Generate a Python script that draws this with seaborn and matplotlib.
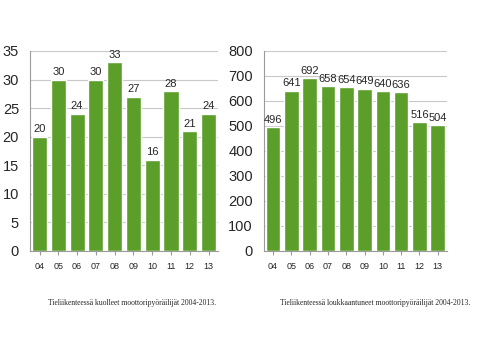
import matplotlib
matplotlib.use("Agg")
import matplotlib.pyplot as plt
import seaborn as sns
import pandas as pd

years = ["04", "05", "06", "07", "08", "09", "10", "11", "12", "13"]
kuolleet = [20, 30, 24, 30, 33, 27, 16, 28, 21, 24]
loukkaantuneet = [496, 641, 692, 658, 654, 649, 640, 636, 516, 504]

caption_left = "Tieliikenteessä kuolleet moottoripyöräilijät 2004-2013."
caption_right = "Tieliikenteessä loukkaantuneet moottoripyöräilijät 2004-2013."

sns.set_style("white")
plt.rcParams['font.family'] = ['Liberation Sans', 'DejaVu Sans']

green = "#5c9e2a"
fig = plt.figure(figsize=(4.79, 3.59), dpi=100)
ax1 = fig.add_axes([0.063, 0.301, 0.392, 0.557])
ax2 = fig.add_axes([0.551, 0.301, 0.382, 0.557])


def draw(ax, values, top, step):
    df = pd.DataFrame({"vuosi": years, "arvo": values})
    sns.barplot(data=df, x="vuosi", y="arvo", color=green, width=0.8,
                saturation=1, ax=ax, zorder=3)
    ax.set_xlim(-0.5, 9.5)
    ax.set_ylim(0, top)
    ax.set_yticks(range(0, top + 1, step))
    ax.grid(axis="y", color="#c8c8c8", linewidth=0.8, zorder=0)
    ax.set_axisbelow(True)
    for s in ["top", "right"]:
        ax.spines[s].set_visible(False)
    for s in ["left", "bottom"]:
        ax.spines[s].set_color("#9a9a9a")
        ax.spines[s].set_linewidth(0.8)
    ax.tick_params(axis="y", labelsize=10.5, length=0, pad=8)
    ax.tick_params(axis="x", labelsize=6.5, length=3, color="#9a9a9a",
                   direction="out", bottom=True, pad=5)
    ax.set_xlabel("")
    ax.set_ylabel("")
    for i, v in enumerate(values):
        ax.text(i, v + top * 0.012, str(v), ha="center", va="bottom", fontsize=8)


draw(ax1, kuolleet, 35, 5)
draw(ax2, loukkaantuneet, 800, 100)

fig.text(0.276, 0.157, caption_left, ha="center", va="center", fontsize=5.5,
         family="Liberation Serif")
fig.text(0.783, 0.157, caption_right, ha="center", va="center", fontsize=5.5,
         family="Liberation Serif")

fig.savefig("out.png", dpi=100)
